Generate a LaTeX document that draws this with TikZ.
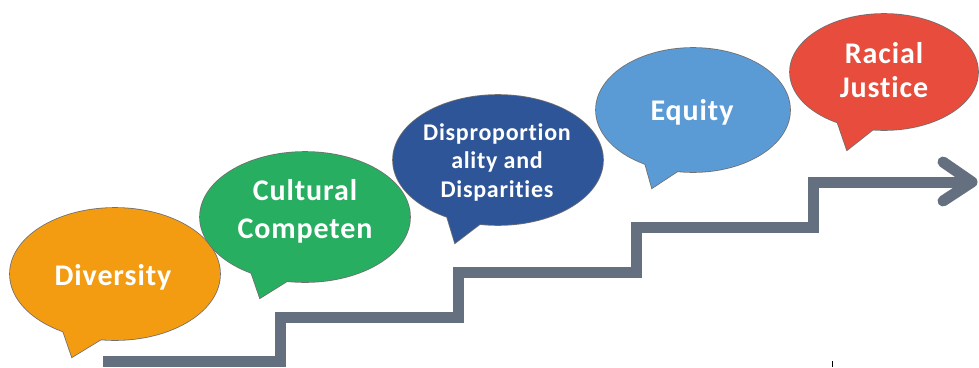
\documentclass[tikz,border=0pt]{standalone}
\usepackage{fontspec}
\setmainfont{Carlito}[Ligatures={NoCommon}, LetterSpace=3]
\definecolor{orangeb}{HTML}{F39C12}
\definecolor{greenb}{HTML}{28AE60}
\definecolor{navyb}{HTML}{2E5597}
\definecolor{blueb}{HTML}{5A9BD5}
\definecolor{redb}{HTML}{E74C3C}
\definecolor{stairgray}{HTML}{64707F}
\definecolor{bubline}{HTML}{707070}
\newcommand{\speechbubble}[4]{%
  \path[outl] #2 ellipse (#3);
  \path[outl] #4 -- cycle;
  \path[fill=#1] #2 ellipse (#3);
  \path[fill=#1] #4 -- cycle;
}
\begin{document}
\begin{tikzpicture}[x=1pt,y=-1pt,
  lbl/.style={text=white, font=\bfseries\fontsize{30}{30}\selectfont, anchor=base, inner sep=0pt},
  smalllbl/.style={lbl, font=\bfseries\fontsize{24}{24}\selectfont},
  stair/.style={draw=stairgray, line width=11pt, line join=miter, line cap=butt},
  arrowhd/.style={draw=stairgray, line width=11pt, line cap=round, line join=round},
  outl/.style={draw=bubline, line width=1.6pt, line join=miter},
]
\useasboundingbox (0,0) rectangle (979,367);

% speech bubbles
\speechbubble{orangeb}{(115,274)}{105pt and 66pt}{(61,325) -- (72,357) -- (113,332)}
\speechbubble{greenb}{(305,217)}{105pt and 65pt}{(249,266) -- (260,298) -- (300,273)}
\speechbubble{navyb}{(498,160)}{105pt and 65pt}{(445,210) -- (455,243) -- (493,214)}
\speechbubble{blueb}{(693,110)}{97pt and 62pt}{(643,156) -- (652,188) -- (690,163)}
\speechbubble{redb}{(884,72)}{94pt and 58pt}{(836,118) -- (847,150) -- (885,120)}

% texts
\node[lbl] (div) at (113,285) {Diversity};
\node[lbl] (cul1) at (305,200) {Cultural};
\node[lbl] (cul2) at (305,238) {Competen};
\node[smalllbl] (dis1) at (497,140) {Disproportion};
\node[smalllbl] (dis2) at (497,168) {ality and};
\node[smalllbl] (dis3) at (497,197) {Disparities};
\node[lbl] (eq) at (692,120) {Equity};
\node[lbl] (rac1) at (884,63) {Racial};
\node[lbl] (rac2) at (884,97) {Justice};

% stairs
\coordinate (st0) at (103,361);
\coordinate (st1) at (280.5,317);
\coordinate (st2) at (458,272);
\coordinate (st3) at (636,227);
\coordinate (st4) at (813,182);
\coordinate (tip) at (972,182);
\coordinate (ah1) at (943,162);
\coordinate (ah2) at (943,201);
\draw[stair] (st0) -| (st1) -| (st2) -| (st3) -| (st4) -- (tip);
\draw[arrowhd] (ah1) -- (tip) -- (ah2);

% small tick
\coordinate (tk) at (832,361);
\draw[black, line width=1pt] (tk) -- ++(0,6);
\end{tikzpicture}
\end{document}
